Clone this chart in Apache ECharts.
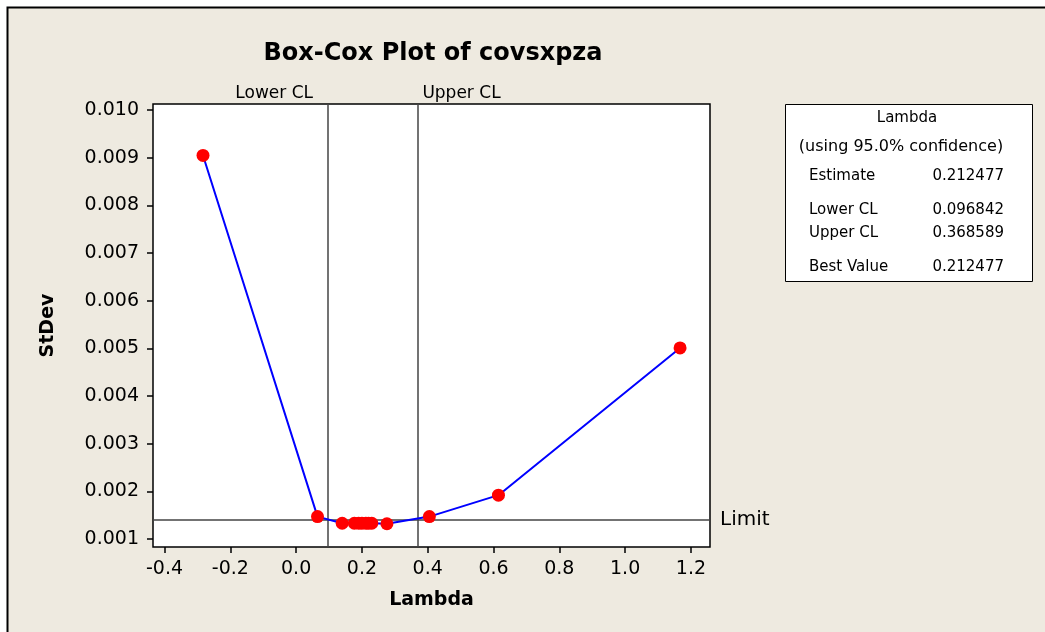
<!DOCTYPE html>
<html>
<head>
<meta charset="utf-8">
<script src="https://cdn.jsdelivr.net/npm/echarts@6/dist/echarts.min.js"></script>
<style>
  html, body { margin: 0; padding: 0; background: #fff; }
  #chart { width: 1045px; height: 632px; }
</style>
</head>
<body>
<div id="chart"></div>
<script>
// lambda values evaluated and the StDev of each
const lambdaVals = [-0.283, 0.065, 0.14, 0.177, 0.19, 0.2, 0.212, 0.22, 0.23, 0.276, 0.405, 0.615, 1.167];
const stdevVals = [0.00905, 0.00147, 0.00133, 0.00133, 0.00133, 0.00133, 0.00133, 0.00133, 0.00133, 0.00132, 0.00147, 0.00192, 0.00501];

const xTicks = [-0.4, -0.2, 0.0, 0.2, 0.4, 0.6, 0.8, 1.0, 1.2];
const yTicks = [0.001, 0.002, 0.003, 0.004, 0.005, 0.006, 0.007, 0.008, 0.009, 0.010];

const xMin = -0.435, xMax = 1.258;
const yMin = 0.000832, yMax = 0.01013;

const lowerCL = 0.096842;
const upperCL = 0.368589;
const limitVal = 0.0014;

// summary box
const boxLabels = ["Estimate", "Lower CL", "Upper CL", "Best Value"];
const boxValues = ["0.212477", "0.096842", "0.368589", "0.212477"];

const font = "DejaVu Sans, Verdana, sans-serif";
const boxFont = "15px " + font;
const chart = echarts.init(document.getElementById("chart"));

const boxRows = [176, 210, 233, 267];
const boxTexts = [];
boxLabels.forEach((lab, i) => {
  boxTexts.push({
    type: "text", z: 6, x: 809, y: boxRows[i],
    style: { text: lab, font: boxFont, fill: "#000", align: "left", verticalAlign: "middle" }
  });
  boxTexts.push({
    type: "text", z: 6, x: 1004, y: boxRows[i],
    style: { text: boxValues[i], font: boxFont, fill: "#000", align: "right", verticalAlign: "middle" }
  });
});

const option = {
  backgroundColor: "#fff",
  animation: false,
  textStyle: { fontFamily: font },
  title: {
    text: "Box-Cox Plot of covsxpza",
    left: 428, top: 37, textAlign: "center",
    textStyle: { fontSize: 24, fontWeight: "bold", color: "#000", fontFamily: font }
  },
  graphic: [
    {
      type: "rect", z: -10, silent: true,
      shape: { x: 7.5, y: 7.5, width: 1100, height: 700 },
      style: { fill: "#EEEAE0", stroke: "#000", lineWidth: 2 }
    },
    {
      type: "rect", z: 5,
      shape: { x: 785.5, y: 104.5, width: 247, height: 177 },
      style: { fill: "#fff", stroke: "#000", lineWidth: 1 }
    },
    {
      type: "text", z: 6, x: 907, y: 118,
      style: { text: "Lambda", font: boxFont, fill: "#000", align: "center", verticalAlign: "middle" }
    },
    {
      type: "text", z: 6, x: 901, y: 147,
      style: { text: "(using 95.0% confidence)", font: "16px " + font, fill: "#000", align: "center", verticalAlign: "middle" }
    },
    ...boxTexts
  ],
  grid: {
    left: 153, right: 335, top: 104, bottom: 85,
    show: true, backgroundColor: "#fff", borderColor: "#000", borderWidth: 1.5
  },
  xAxis: {
    type: "value",
    min: xMin, max: xMax,
    name: "Lambda", nameLocation: "middle", nameGap: 44,
    nameTextStyle: { fontSize: 19, fontWeight: "bold", color: "#000" },
    axisLine: { show: false, onZero: false },
    splitLine: { show: false },
    axisTick: { show: true, length: 6, customValues: xTicks, lineStyle: { color: "#000", width: 1.5 } },
    axisLabel: {
      customValues: xTicks, fontSize: 19, color: "#000", margin: 13,
      formatter: v => v.toFixed(1)
    }
  },
  yAxis: {
    type: "value",
    min: yMin, max: yMax,
    name: "StDev", nameLocation: "middle", nameGap: 95, nameRotate: 90,
    nameTextStyle: { fontSize: 19, fontWeight: "bold", color: "#000" },
    axisLine: { show: false, onZero: false },
    splitLine: { show: false },
    axisTick: { show: true, length: 6, customValues: yTicks, lineStyle: { color: "#000", width: 1.5 } },
    axisLabel: {
      customValues: yTicks, fontSize: 19, color: "#000", margin: 14,
      formatter: v => v.toFixed(3)
    }
  },
  series: [
    {
      type: "line", z: 3,
      data: lambdaVals.map((x, i) => [x, stdevVals[i]]),
      symbol: "circle", symbolSize: 13, showSymbol: true,
      itemStyle: { color: "#FF0000", borderWidth: 0 },
      lineStyle: { color: "#0000FF", width: 2 },
      markLine: {
        symbol: "none", silent: true, z: 1,
        lineStyle: { color: "#444", width: 1.5, type: "solid" },
        data: [
          [
            { coord: [lowerCL, yMin] },
            { coord: [lowerCL, yMax], label: { formatter: "Lower CL", position: "end", align: "right", distance: 2, padding: [0, 15, 0, 0], fontSize: 17, color: "#000" } }
          ],
          [
            { coord: [upperCL, yMin] },
            { coord: [upperCL, yMax], label: { formatter: "Upper CL", position: "end", align: "left", distance: 2, padding: [0, 0, 0, 5], fontSize: 17, color: "#000" } }
          ],
          [
            { coord: [xMin, limitVal] },
            { coord: [xMax, limitVal], label: { formatter: "Limit", position: "end", distance: 10, fontSize: 20, color: "#000" } }
          ]
        ]
      }
    }
  ]
};

chart.setOption(option);
</script>
</body>
</html>
